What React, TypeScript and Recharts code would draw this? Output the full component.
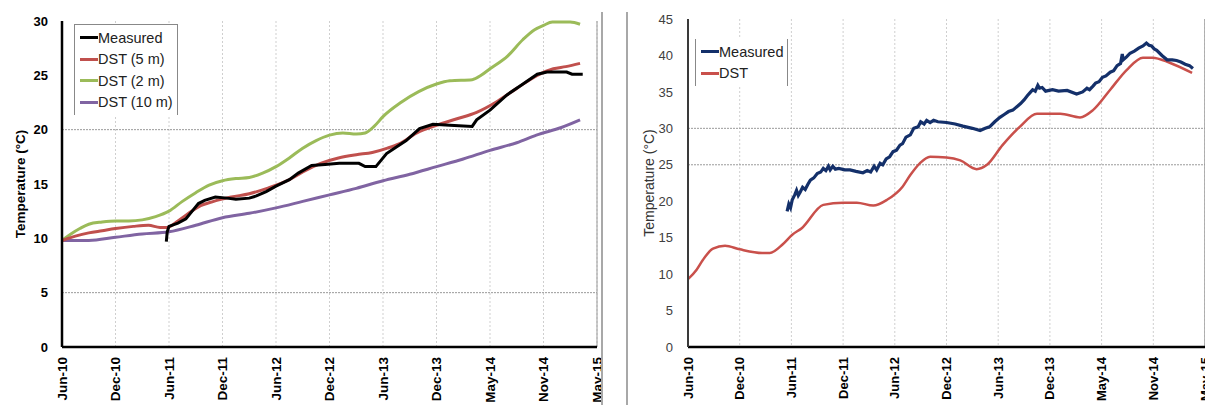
import { LineChart, Line, XAxis, YAxis, CartesianGrid, ReferenceLine, Legend, Label } from "recharts"

// x = months since Jun-10, y = temperature (°C)
const monthTicks = [0, 6, 12, 18, 24, 30, 36, 42, 48, 54, 60]
const tickLabels = ["Jun-10", "Dec-10", "Jun-11", "Dec-11", "Jun-12", "Dec-12", "Jun-13", "Dec-13", "May-14", "Nov-14", "May-15"]
const leftYTicks = [0, 5, 10, 15, 20, 25, 30]
const rightYTicks = [0, 5, 10, 15, 20, 25, 30, 35, 40, 45]

const leftMeasured = [
  [11.7, 9.7], [11.8, 10.6], [12, 11.1], [13, 11.4], [13.9, 11.8], [14.6, 12.5], [15.3, 13.2], [16, 13.5],
  [17.2, 13.8], [18.5, 13.7], [19.5, 13.6], [21, 13.7], [21.8, 13.9], [22.9, 14.3], [24, 14.8], [25.5, 15.4],
  [26.5, 16.0], [28, 16.7], [29.5, 16.8], [31.1, 16.9], [33.3, 16.9], [34, 16.6], [35.2, 16.6], [36.4, 17.8],
  [37.5, 18.4], [38.6, 19.0], [40.1, 20.1], [41.6, 20.5], [43.5, 20.4], [46, 20.3], [46.5, 20.9], [48, 21.8],
  [49.9, 23.2], [51.7, 24.2], [53.3, 25.1], [54.4, 25.3], [56.6, 25.3], [57.2, 25.1], [58.4, 25.1],
]
const leftDst5 = [
  [0, 9.8], [1.5, 10.2], [3, 10.5], [4.5, 10.7], [6, 10.9], [8, 11.1], [9.7, 11.2], [11, 11.0], [11.8, 11.0],
  [13, 11.6], [14.2, 12.3], [15.3, 12.9], [17, 13.4], [19, 13.8], [21, 14.1], [23, 14.6], [25.5, 15.4],
  [27, 16.1], [29, 16.9], [31, 17.4], [33, 17.7], [34.8, 17.9], [36.5, 18.3], [37.8, 18.7], [39.8, 19.7],
  [42, 20.4], [44.3, 21.0], [46.5, 21.6], [48.8, 22.6], [51, 23.8], [53.3, 25.0], [55.1, 25.6], [56.5, 25.8],
  [58.1, 26.1],
]
const leftDst2 = [
  [0, 9.8], [1, 10.4], [2, 10.9], [3, 11.3], [4.5, 11.5], [6, 11.6], [7.5, 11.6], [9, 11.7], [10.5, 12.0],
  [12, 12.5], [13.5, 13.4], [15, 14.2], [16.5, 14.9], [18, 15.3], [19.5, 15.5], [21, 15.6], [22.5, 16.0],
  [24, 16.6], [25.5, 17.4], [27, 18.3], [28.5, 19.0], [30, 19.5], [31.5, 19.7], [33, 19.6], [34, 19.7],
  [35, 20.3], [36, 21.2], [38, 22.5], [40, 23.5], [42, 24.2], [43.5, 24.5], [46, 24.6], [47, 25.0],
  [48, 25.6], [50, 26.8], [51.7, 28.3], [53, 29.2], [54, 29.6], [55, 29.9], [57, 29.9], [58.1, 29.7],
]
const leftDst10 = [
  [0, 9.8], [3, 9.8], [6, 10.1], [9, 10.4], [12, 10.6], [15, 11.2], [18, 11.9], [21, 12.3], [24, 12.8],
  [27, 13.4], [30, 14.0], [33, 14.6], [36, 15.3], [39, 15.9], [42, 16.6], [45, 17.3], [48, 18.1], [51, 18.8],
  [53.2, 19.5], [56, 20.2], [58.1, 20.9],
]

const rightMeasured = [
  [11.5, 18.6], [11.7, 19.6], [11.9, 19.1], [12.1, 20.2], [12.4, 20.9], [12.6, 21.5], [12.8, 20.8], [13.0, 21.2],
  [13.3, 21.9], [13.6, 21.6], [13.9, 22.3], [14.2, 22.9], [14.6, 23.2], [15, 23.8], [15.4, 24.0], [15.7, 24.5],
  [16.0, 24.2], [16.3, 24.8], [16.5, 24.3], [16.8, 24.8], [17.1, 24.4], [17.5, 24.5], [18.2, 24.3], [18.8, 24.3],
  [19.5, 24.1], [20.3, 23.9], [20.8, 24.2], [21.2, 24.0], [21.6, 24.8], [21.9, 24.3], [22.3, 25.2], [22.6, 25.0],
  [23.0, 25.8], [23.4, 26.1], [23.8, 26.8], [24.2, 27.0], [24.6, 27.7], [24.9, 27.9], [25.3, 28.8], [25.8, 29.1],
  [26.2, 30.0], [26.7, 30.2], [27.0, 30.9], [27.4, 30.6], [27.7, 31.1], [28.1, 30.8], [28.5, 31.1], [29, 30.9],
  [30, 30.8], [31, 30.6], [31.9, 30.3], [33, 30.0], [33.9, 29.7], [34.5, 30.0], [35, 30.2], [35.6, 30.9],
  [36.2, 31.5], [36.7, 31.9], [37.2, 32.3], [37.7, 32.5], [38.2, 33.0], [38.6, 33.4], [39, 33.9], [39.4, 34.5],
  [39.7, 34.9], [40.0, 35.3], [40.3, 35.1], [40.6, 35.9], [40.8, 35.5], [41.1, 35.6], [41.5, 35.1], [42.3, 35.3],
  [43, 35.1], [44, 35.2], [45.1, 34.7], [45.8, 35.0], [46.3, 35.5], [46.6, 35.3], [47.0, 35.8], [47.3, 36.2],
  [47.7, 36.4], [48.1, 37.0], [48.5, 37.2], [49, 37.7], [49.4, 37.9], [49.8, 38.6], [50.2, 38.9], [50.4, 40.2],
  [50.5, 39.4], [50.9, 39.8], [51.3, 40.3], [51.8, 40.6], [52.3, 41.0], [52.8, 41.3], [53.2, 41.7], [53.5, 41.4],
  [53.8, 41.3], [54.1, 40.9], [54.4, 40.7], [55, 40.0], [55.6, 39.4], [56.2, 39.4], [56.7, 39.3], [57.2, 39.1],
  [57.7, 38.8], [58.2, 38.6], [58.6, 38.2],
]
const rightDst = [
  [0, 9.3], [1, 10.6], [1.7, 11.9], [2.9, 13.5], [4.3, 13.9], [6, 13.4], [8.6, 12.9], [9.5, 12.9], [11, 14.1],
  [12.1, 15.4], [13.2, 16.3], [15.7, 19.5], [18, 19.8], [19.6, 19.8], [21.5, 19.4], [23.1, 20.2], [24.9, 22.0],
  [25.8, 23.6], [26.9, 25.2], [28.1, 26.1], [30, 26.0], [31.6, 25.6], [33.5, 24.4], [34.7, 25.0], [36.5, 27.7],
  [38.5, 30.2], [40.5, 32.0], [43.2, 32.0], [45.5, 31.5], [47, 32.5], [49, 35.3], [50.9, 38.0], [52.8, 39.7],
  [53.9, 39.7], [55.9, 39.0], [58.5, 37.6],
]

const toPoints = (pairs: number[][]) => pairs.map(([m, t]) => ({ m, t }))

const FONT = '"Liberation Sans", Arial, sans-serif'

const leftLegend = [
  { name: "Measured", color: "#000000" },
  { name: "DST (5 m)", color: "#c0504d" },
  { name: "DST (2 m)", color: "#9bbb59" },
  { name: "DST (10 m)", color: "#8064a2" },
]
const rightLegend = [
  { name: "Measured", color: "#14306a" },
  { name: "DST", color: "#c9504b" },
]

function LegendBox({ items, top }: { items: { name: string; color: string }[]; top: boolean }) {
  return (
    <div
      style={{
        fontFamily: FONT,
        fontSize: 14.5,
        color: "#222",
        borderLeft: "1px solid #888",
        borderRight: "1px solid #888",
        borderTop: top ? "1px solid #888" : "none",
        padding: "2px 4px 2px 5px",
        background: "#fff",
      }}
    >
      {items.map((it) => (
        <div key={it.name} style={{ display: "flex", alignItems: "center", height: 21.5, whiteSpace: "nowrap" }}>
          <span style={{ display: "inline-block", width: 18, height: 3, background: it.color }} />
          <span>{it.name}</span>
        </div>
      ))}
    </div>
  )
}

function XTick(props: any) {
  const { x, y, payload, bold } = props
  const label = tickLabels[monthTicks.indexOf(payload.value)]
  return (
    <text
      x={x}
      y={y + 8}
      transform={`rotate(-90 ${x} ${y + 8})`}
      textAnchor="end"
      dominantBaseline="central"
      fontFamily={FONT}
      fontSize={bold ? 13.5 : 13}
      fontWeight={bold ? 900 : 700}
      fill="#000"
    >
      {label}
    </text>
  )
}

function YTitle(props: any) {
  const { viewBox, cx, bold } = props
  const cy = viewBox.y + viewBox.height / 2
  return (
    <text
      x={cx}
      y={cy}
      transform={`rotate(-90 ${cx} ${cy})`}
      textAnchor="middle"
      dominantBaseline="central"
      fontFamily={FONT}
      fontSize={bold ? 13.5 : 14}
      fontWeight={bold ? 700 : 400}
      fill={bold ? "#000" : "#333"}
    >
      Temperature (°C)
    </text>
  )
}

export default function App() {
  return (
    <div style={{ position: "relative", width: 1213, height: 413, margin: -8, background: "#fff", overflow: "hidden" }}>
      {/* left panel */}
      <div style={{ position: "absolute", left: 0, top: 0 }}>
        <LineChart width={603} height={413} margin={{ top: 21, right: 6, left: 0, bottom: 0 }}>
          <CartesianGrid horizontal={false} stroke="#cfcfcf" strokeDasharray="2 2" />
          <XAxis
            type="number"
            dataKey="m"
            domain={[0, 60]}
            ticks={monthTicks}
            interval={0}
            height={66}
            tickLine={false}
            tickSize={0}
            tick={<XTick bold />}
            axisLine={{ stroke: "#000", strokeWidth: 2.5 }}
            allowDataOverflow
          />
          <YAxis
            type="number"
            domain={[0, 30]}
            ticks={leftYTicks}
            width={62}
            tickLine={false}
            tickSize={0}
            tickMargin={14}
            tick={{ fill: "#000", fontSize: 13, fontWeight: 900, fontFamily: FONT }}
            axisLine={{ stroke: "#000", strokeWidth: 2.5 }}
          >
            <Label content={<YTitle cx={20} bold />} />
          </YAxis>
          <ReferenceLine y={5} stroke="#9a9a9a" strokeDasharray="2 1" />
          <ReferenceLine y={20} stroke="#9a9a9a" strokeDasharray="2 1" />
          <ReferenceLine x={60} stroke="#9a9a9a" strokeWidth={1} />
          <Line data={toPoints(leftDst10)} dataKey="t" type="monotone" stroke="#8064a2" strokeWidth={3} dot={false} isAnimationActive={false} />
          <Line data={toPoints(leftDst2)} dataKey="t" type="monotone" stroke="#9bbb59" strokeWidth={3} dot={false} isAnimationActive={false} />
          <Line data={toPoints(leftDst5)} dataKey="t" type="monotone" stroke="#c0504d" strokeWidth={3} dot={false} isAnimationActive={false} />
          <Line data={toPoints(leftMeasured)} dataKey="t" type="linear" stroke="#000000" strokeWidth={3} dot={false} isAnimationActive={false} />
          <Legend
            layout="vertical"
            align="center"
            verticalAlign="middle"
            wrapperStyle={{ left: 74, top: 24, width: "auto", height: "auto" }}
            content={() => <LegendBox items={leftLegend} top />}
          />
        </LineChart>
      </div>
      <div style={{ position: "absolute", left: 601, top: 12, width: 2, height: 401, background: "#a8a8a8" }} />

      {/* right panel */}
      <div style={{ position: "absolute", left: 627, top: 0 }}>
        <LineChart width={586} height={413} margin={{ top: 19, right: 8, left: 0, bottom: 0 }}>
          <CartesianGrid horizontal={false} stroke="#cfcfcf" strokeDasharray="2 2" />
          <XAxis
            type="number"
            dataKey="m"
            domain={[0, 60]}
            ticks={monthTicks}
            interval={0}
            height={66}
            tickLine={false}
            tickSize={0}
            tick={<XTick />}
            axisLine={{ stroke: "#000", strokeWidth: 2.5 }}
            allowDataOverflow
          />
          <YAxis
            type="number"
            domain={[0, 45]}
            ticks={rightYTicks}
            width={61}
            tickLine={false}
            tickSize={0}
            tickMargin={15}
            tick={{ fill: "#404040", fontSize: 13, fontFamily: FONT }}
            axisLine={{ stroke: "#3a3a3a", strokeWidth: 2 }}
          >
            <Label content={<YTitle cx={22} />} />
          </YAxis>
          <ReferenceLine y={25} stroke="#9a9a9a" strokeDasharray="2 1" />
          <ReferenceLine y={30} stroke="#9a9a9a" strokeDasharray="2 1" />
          <ReferenceLine x={60} stroke="#9a9a9a" strokeWidth={1.5} />
          <Line data={toPoints(rightDst)} dataKey="t" type="monotone" stroke="#c9504b" strokeWidth={2.5} dot={false} isAnimationActive={false} />
          <Line data={toPoints(rightMeasured)} dataKey="t" type="linear" stroke="#14306a" strokeWidth={3.2} dot={false} isAnimationActive={false} />
          <Legend
            layout="vertical"
            align="center"
            verticalAlign="middle"
            wrapperStyle={{ left: 68, top: 39, width: "auto", height: "auto" }}
            content={() => <LegendBox items={rightLegend} top={false} />}
          />
        </LineChart>
      </div>
      <div style={{ position: "absolute", left: 626, top: 12, width: 2, height: 399, background: "#a8a8a8" }} />
      <div style={{ position: "absolute", left: 626, top: 409, width: 587, height: 2, background: "#a8a8a8" }} />
    </div>
  )
}
